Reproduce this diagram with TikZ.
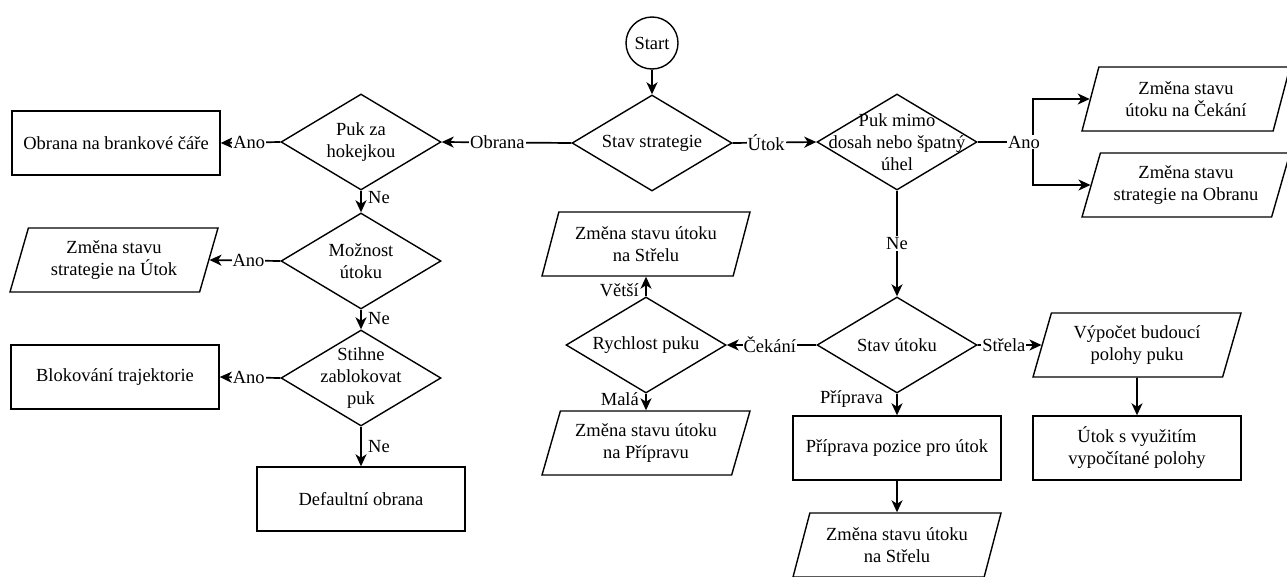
\documentclass[tikz,border=0pt]{standalone}
\usepackage{fontspec}
\setmainfont{Liberation Serif}
\usetikzlibrary{shapes.geometric,arrows.meta}

\begin{document}
\begin{tikzpicture}
  [x=1pt, y=-1pt,
   every node/.style={font=\fontsize{18.5}{22}\selectfont, align=center},
   box/.style={draw, rectangle, line width=1.4pt, minimum width=208pt, minimum height=64pt},
   para/.style={draw, trapezium, trapezium left angle=68, trapezium right angle=112,
                trapezium stretches body, line width=1.4pt, minimum width=208pt,
                minimum height=64pt, inner xsep=0pt},
   dia/.style={draw, diamond, line width=1.4pt, minimum width=160pt, minimum height=96pt, inner sep=0pt},
   arr/.style={line width=1.7pt, -{Stealth[length=12pt,width=11pt,inset=3.5pt]}},
   lbl/.style={fill=white, inner sep=1pt}]
  \useasboundingbox (0,0) rectangle (1287,576);

  \node[draw, circle, line width=1.4pt, minimum size=52pt, inner sep=0pt] (start) at (652,43) {Start};
  \node[dia, label={center:Stav strategie}] (strat) at (652,143) {};

  \node[dia, label={center:Puk za\\hokejkou}] (pukza) at (361,142) {};
  \node[box] (brank) at (116,143) {Obrana na brankové čáře};
  \node[dia, label={center:Možnost\\útoku}] (moznost) at (361,261) {};
  \node[para] (zmutok) at (114,260) {Změna stavu\\strategie na Útok};
  \node[dia, label={center:Stihne\\zablokovat\\puk}] (stihne) at (361,378) {};
  \node[box] (blok) at (115,377) {Blokování trajektorie};
  \node[box] (default) at (361,499) {Defaultní obrana};

  \node[dia, label={center:Puk mimo\\dosah nebo špatný\\úhel}] (mimo) at (897,142) {};
  \coordinate (split) at (1033,142);
  \node[para] (zmcek) at (1186,99) {Změna stavu\\útoku na Čekání};
  \node[para] (zmobr) at (1186,185) {Změna stavu\\strategie na Obranu};

  \node[dia, label={center:Stav útoku}] (stavutok) at (897,345) {};
  \node[dia, label={center:Rychlost puku}] (rychl) at (646,345) {};
  \node[para] (strelaA) at (646,244) {Změna stavu útoku\\na Střelu};
  \node[para] (priprava) at (646,443) {Změna stavu útoku\\na Přípravu};
  \node[para] (vypocet) at (1137,345) {Výpočet budoucí\\polohy puku};
  \node[box] (vyuziti) at (1137,448) {Útok s využitím\\vypočítané polohy};
  \node[box] (pozice) at (897,448) {Příprava pozice pro útok};
  \node[para] (strelaB) at (897,545) {Změna stavu útoku\\na Střelu};

  \draw[arr] (start) -- (strat);
  \draw[arr] (strat.west) -- node[lbl, pos=0.57] {Obrana} (pukza.east);
  \draw[arr] (strat.east) -- node[lbl, pos=0.4] {Útok} (mimo.west);

  \draw[arr] (pukza.west) -- node[lbl, pos=0.52] {Ano} (brank.east);
  \draw[arr] (pukza) -- node[right, pos=0.3, xshift=3pt] {Ne} (moznost);
  \draw[arr] (moznost.west) -- node[lbl, pos=0.45] {Ano} (zmutok.east);
  \draw[arr] (moznost) -- node[right, pos=0.45, xshift=3pt] {Ne} (stihne);
  \draw[arr] (stihne.west) -- node[lbl, pos=0.52] {Ano} (blok.east);
  \draw[arr] (stihne) -- node[right, pos=0.5, xshift=3pt] {Ne} (default);

  \draw[line width=1.7pt] (mimo.east) -- (split);
  \draw[arr] (split) |- (zmcek.west);
  \draw[arr] (split) |- (zmobr.west);
  \node[lbl] (anoR) at (1024,142) {Ano};
  \draw[arr] (mimo) -- node[lbl, pos=0.5] {Ne} (stavutok);

  \draw[arr] (stavutok.west) -- node[lbl, pos=0.52] {Čekání} (rychl.east);
  \draw[arr] (stavutok.east) -- node[lbl, pos=0.41] {Střela} (vypocet.west);
  \draw[arr] (stavutok) -- node[left, pos=0.25, xshift=-10pt] {Příprava} (pozice);
  \draw[arr] (rychl) -- node[left, pos=0.3, xshift=-3pt] {Větší} (strelaA);
  \draw[arr] (rychl) -- node[left, pos=0.35, xshift=-3pt] {Malá} (priprava);
  \draw[arr] (vypocet) -- (vyuziti);
  \draw[arr] (pozice) -- (strelaB);
\end{tikzpicture}
\end{document}
